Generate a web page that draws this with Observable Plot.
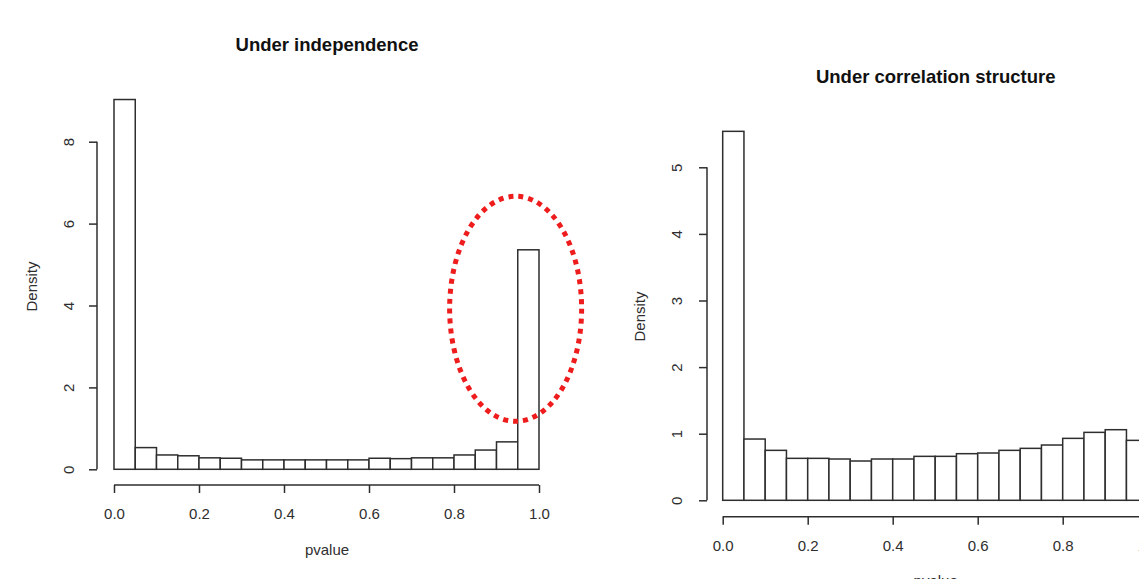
<!DOCTYPE html>
<html><head><meta charset="utf-8">
<script src="https://cdn.jsdelivr.net/npm/d3@7"></script>
<script src="https://cdn.jsdelivr.net/npm/@observablehq/plot@0.6"></script>
<style>
body{margin:0;background:#fff;overflow:hidden}
#wrap{position:relative;width:1139px;height:579px;overflow:hidden;background:#fff}
#wrap svg{position:absolute;top:0;overflow:visible}
</style></head><body><div id="wrap"></div>
<script>
const binStart = [0,0.05,0.1,0.15,0.2,0.25,0.3,0.35,0.4,0.45,0.5,0.55,0.6,0.65,0.7,0.75,0.8,0.85,0.9,0.95];
const binWidth = 0.05;
const densityIndep = [9.03,0.53,0.35,0.33,0.28,0.27,0.23,0.23,0.23,0.23,0.23,0.23,0.27,0.26,0.28,0.28,0.35,0.47,0.67,5.36];
const densityCorr = [5.54,0.92,0.75,0.63,0.63,0.62,0.59,0.62,0.62,0.66,0.66,0.70,0.71,0.75,0.78,0.83,0.93,1.02,1.06,0.90];
const xTicks = [0,0.2,0.4,0.6,0.8,1.0];
const yTicksIndep = [0,2,4,6,8];
const yTicksCorr = [0,1,2,3,4,5];
const titles = ["Under independence","Under correlation structure"];
const xLabel = "pvalue";
const yLabel = "Density";
const highlight = {pvalue:0.945, density:3.92};

const FONT = "'Liberation Sans', Arial, Helvetica, sans-serif";
const INK = "#2e2e2e";

function panel(cfg){
  const data = binStart.map((s,i)=>({x1:s, x2:s+binWidth, y:cfg.values[i]}));
  const top = cfg.yTicks[cfg.yTicks.length-1];
  const plot = Plot.plot({
    width: cfg.width, height: cfg.height,
    marginLeft: cfg.yAxisX, marginRight: cfg.width - cfg.xRange[1],
    marginTop: 0, marginBottom: cfg.height - cfg.xAxisY,
    style: {fontFamily: FONT, color: INK, background: "transparent", overflow: "visible"},
    x: {domain:[0,1], range: cfg.xRange, axis: null},
    y: {domain:[0, top], range:[cfg.y0, cfg.yTop], axis: null},
    marks: [
      Plot.rectY(data, {x1:"x1", x2:"x2", y1:0, y2:"y", fill:"white", stroke:INK, strokeWidth:1.5}),
      Plot.axisX(xTicks, {anchor:"bottom", label:null, tickSize:8, tickPadding:15, fontSize:15, stroke:INK, strokeWidth:1.5, tickFormat:d=>d.toFixed(1)}),
      Plot.axisY(cfg.yTicks, {anchor:"left", label:null, tickSize:8, strokeWidth:1.5, stroke:INK, tickFormat:()=>""}),
      Plot.text(cfg.yTicks, {y:d=>d, text:d=>String(d), frameAnchor:"left", textAnchor:"middle", lineAnchor:"middle", dx:cfg.tickLabelX - cfg.yAxisX, rotate:-90, fontSize:15, fill:INK}),
      Plot.text([cfg.title], {x:()=>0.5, frameAnchor:"top", lineAnchor:"middle", dy:cfg.titleY, fontSize:18.5, fontWeight:"bold", fill:"#111"}),
      Plot.text([xLabel], {x:()=>0.5, frameAnchor:"bottom", lineAnchor:"middle", dy:cfg.xLabelY - cfg.xAxisY, fontSize:15, fill:INK}),
      Plot.text([yLabel], {frameAnchor:"left", textAnchor:"middle", lineAnchor:"middle", dx:cfg.yLabelX - cfg.yAxisX, dy:cfg.yLabelCY - (cfg.xAxisY)/2, rotate:-90, fontSize:15, fill:INK})
    ]
  });
  const sx = plot.scale("x"), sy = plot.scale("y");
  const svg = d3.select(plot);
  svg.append("line").attr("x1", sx.apply(0)).attr("x2", sx.apply(1))
    .attr("y1", cfg.xAxisY).attr("y2", cfg.xAxisY).attr("stroke", INK).attr("stroke-width", 1.5);
  svg.append("line").attr("x1", cfg.yAxisX).attr("x2", cfg.yAxisX)
    .attr("y1", sy.apply(0)).attr("y2", sy.apply(top)).attr("stroke", INK).attr("stroke-width", 1.5);
  if (cfg.annotate) {
    svg.append("ellipse").attr("cx", sx.apply(highlight.pvalue)).attr("cy", sy.apply(highlight.density))
      .attr("rx", 66).attr("ry", 112.5).attr("fill", "none").attr("stroke", "#ee1c1c")
      .attr("stroke-width", 5).attr("stroke-dasharray", "5 5");
  }
  plot.style.left = cfg.left + "px";
  return plot;
}

const wrap = document.getElementById("wrap");
wrap.appendChild(panel({
  left:0, width:570, height:579, values:densityIndep, yTicks:yTicksIndep, title:titles[0],
  xRange:[114,539], yAxisX:97, xAxisY:485, y0:469.3, yTop:141.7,
  titleY:45, xLabelY:550, yLabelX:32, yLabelCY:286, tickLabelX:69, annotate:true
}));
wrap.appendChild(panel({
  left:570, width:600, height:640, values:densityCorr, yTicks:yTicksCorr, title:titles[1],
  xRange:[152.7,577.7], yAxisX:137, xAxisY:516.7, y0:500.3, yTop:167.3,
  titleY:77, xLabelY:580.5, yLabelX:70, yLabelCY:316, tickLabelX:107, annotate:false
}));
</script>
</body></html>
